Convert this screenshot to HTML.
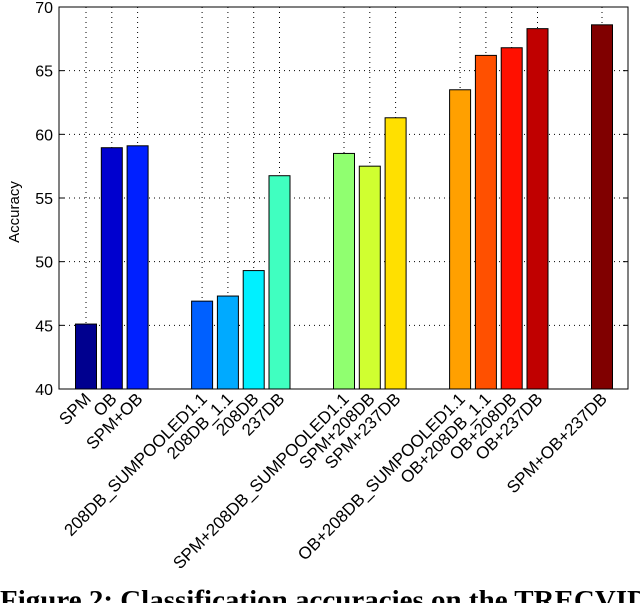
<!DOCTYPE html>
<html><head><meta charset="utf-8"><style>
html,body{margin:0;padding:0;background:#fff;width:640px;height:603px;overflow:hidden}
svg text{font-family:"Liberation Sans",Arial,sans-serif}
</style></head><body>
<svg id="chart" width="640" height="603" xmlns="http://www.w3.org/2000/svg">
<g id="grid"></g>
<g id="bars"></g>
<rect x="59" y="7" width="569" height="382" fill="none" stroke="#000" stroke-width="1"/>
<g id="yaxis"></g>
<g id="xaxis"></g>
<text transform="translate(19,212) rotate(-90)" text-anchor="middle" font-size="15">Accuracy</text>
<text x="0" y="609" font-weight="bold" font-size="27" textLength="648" lengthAdjust="spacingAndGlyphs" style="font-family:'Liberation Serif',serif">Figure 2: Classification accuracies on the TRECVID</text>
</svg>
<script>
const categories = ["SPM","OB","SPM+OB","208DB_SUMPOOLED1.1","208DB_1.1","208DB","237DB","SPM+208DB_SUMPOOLED1.1","SPM+208DB","SPM+237DB","OB+208DB_SUMPOOLED1.1","OB+208DB_1.1","OB+208DB","OB+237DB","SPM+OB+237DB"];
const slots = [1,2,3,5.5,6.5,7.5,8.5,11,12,13,15.5,16.5,17.5,18.5,21];
const values = [45.1,58.95,59.1,46.9,47.3,49.3,56.75,58.5,57.5,61.3,63.5,66.2,66.8,68.3,68.6];
const colors = ["#00008f","#0000cf","#0020ff","#0060ff","#00aaff","#00f0ff","#40ffc0","#90ff70","#d0ff30","#ffe000","#ffa000","#ff5000","#ff1000","#c00000","#800000"];
const yTicks = [40,45,50,55,60,65,70];
const NS="http://www.w3.org/2000/svg";
const y = v => 389 - (v-40)*(382/30);
const x = s => 86 + (s-1)*25.8;
const grid=document.getElementById('grid'), bars=document.getElementById('bars'), ya=document.getElementById('yaxis'), xa=document.getElementById('xaxis');
function mk(tag, attrs, parent){const e=document.createElementNS(NS,tag);for(const k in attrs)e.setAttribute(k,attrs[k]);parent.appendChild(e);return e;}
yTicks.forEach(t=>{
  if(t>40&&t<70){
    const g=mk('line',{x1:59,x2:628,y1:y(t),y2:y(t),stroke:'#000','stroke-width':1,'stroke-dasharray':'1,4'},grid);
    
    
  }
  const tl=mk('line',{x1:59,x2:64,y1:y(t),y2:y(t),stroke:'#000'},ya);
  
  
  const tr=mk('line',{x1:623,x2:628,y1:y(t),y2:y(t),stroke:'#000'},ya);
  
  
  const lb=mk('text',{x:53,y:y(t)+6,'text-anchor':'end','font-size':16},ya);
  lb.textContent=t;
  
  
});
categories.forEach((c,i)=>{
  const cx=x(slots[i]);
  const gl=mk('line',{x1:cx,x2:cx,y1:7,y2:389,stroke:'#000','stroke-width':1,'stroke-dasharray':'1,4'},grid);
  
  
  const b=mk('rect',{x:cx-10.5,y:y(values[i]),width:21,height:389-y(values[i]),fill:colors[i],stroke:'#000','stroke-width':1},bars);
  
  
  const lb=mk('text',{transform:`translate(${cx+6},${400}) rotate(-45)`,'text-anchor':'end','font-size':17},xa);
  lb.textContent=c;
  
  
});
</script>
</body></html>
